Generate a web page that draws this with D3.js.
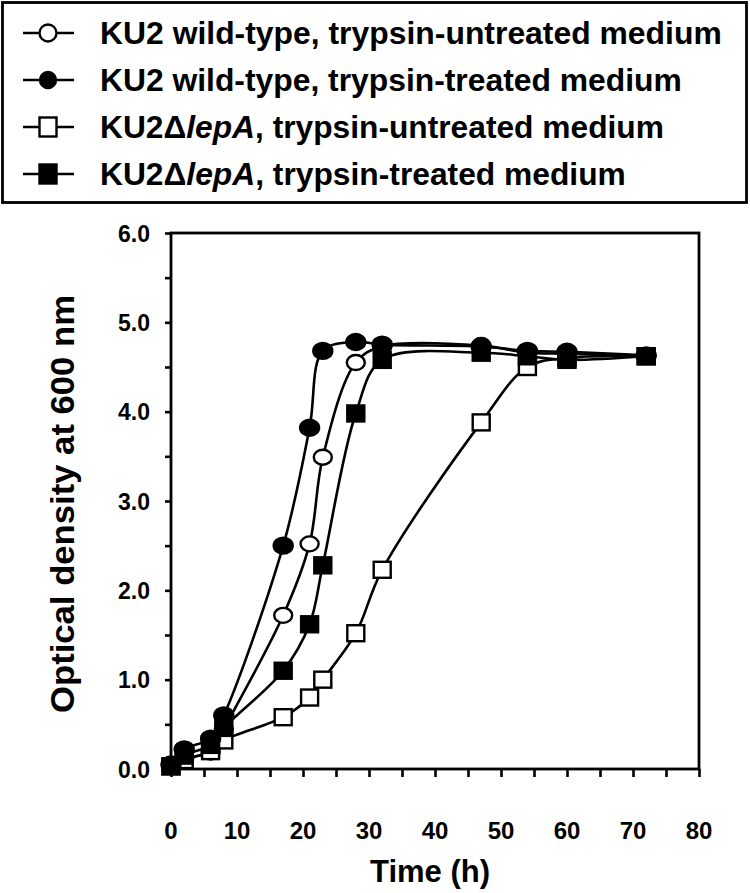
<!DOCTYPE html>
<html>
<head>
<meta charset="utf-8">
<script src="https://cdn.jsdelivr.net/npm/d3@7"></script>
<style>
  body { margin: 0; background: #fff; }
  svg { display: block; }
  text { font-family: "Liberation Sans", Arial, sans-serif; font-weight: bold; fill: #000; }
</style>
</head>
<body>
<svg id="chart" width="750" height="893"></svg>
<script>
// ---- data ----
const times = [0, 2, 6, 8, 17, 21, 23, 28, 32, 47, 54, 60, 72];
const wtUntreated  = [0.03, 0.12, 0.19, 0.45, 1.72, 2.52, 3.49, 4.55, 4.73, 4.74, 4.66, 4.65, 4.62];
const wtTreated    = [0.05, 0.22, 0.34, 0.60, 2.50, 3.82, 4.68, 4.78, 4.75, 4.73, 4.68, 4.67, 4.63];
const lepUntreated = [0.03, 0.10, 0.20, 0.32, 0.58, 0.80, 1.00, 1.52, 2.23, 3.88, 4.50, 4.60, 4.62];
const lepTreated   = [0.03, 0.15, 0.27, 0.46, 1.10, 1.62, 2.28, 3.98, 4.58, 4.66, 4.62, 4.58, 4.62];
const legendLabels = [
  ["KU2 wild-type, trypsin-untreated medium"],
  ["KU2 wild-type, trypsin-treated medium"],
  ["KU2Δ", "lepA", ", trypsin-untreated medium"],
  ["KU2Δ", "lepA", ", trypsin-treated medium"]
];
const xTicks = [0, 10, 20, 30, 40, 50, 60, 70, 80];
const yTicks = [0, 1, 2, 3, 4, 5, 6];
const xTitle = "Time (h)";
const yTitle = "Optical density at 600 nm";

const series = [
  { name: "wtU", values: wtUntreated,  shape: "circle", fill: "#fff" },
  { name: "wtT", values: wtTreated,    shape: "circle", fill: "#000" },
  { name: "lepU", values: lepUntreated, shape: "square", fill: "#fff" },
  { name: "lepT", values: lepTreated,   shape: "square", fill: "#000" }
];

// ---- layout ----
const svg = d3.select("#chart");
const L = 171, R = 699, T = 233, B = 769;
const x = d3.scaleLinear().domain([0, 80]).range([L, R]);
const y = d3.scaleLinear().domain([0, 6]).range([B, T]);

// frame
svg.append("rect").attr("x", L).attr("y", T).attr("width", R - L).attr("height", B - T)
  .attr("fill", "none").attr("stroke", "#000").attr("stroke-width", 2.8);

// x axis ticks
const xAxis = d3.axisBottom(x).tickValues(d3.range(0, 81, 5)).tickSize(8).tickFormat("");
const gx = svg.append("g").attr("transform", `translate(0,${B})`).call(xAxis);
gx.select(".domain").remove();
gx.selectAll(".tick line").attr("stroke", "#000").attr("stroke-width", 2.6);
svg.append("g").selectAll("text").data(xTicks).join("text")
  .attr("x", d => x(d)).attr("y", 839).attr("text-anchor", "middle")
  .attr("font-size", 24).text(d => d);

// y axis ticks
const yAxis = d3.axisLeft(y).tickValues(d3.range(0, 6.01, 0.5)).tickSize(6).tickFormat("");
const gy = svg.append("g").attr("transform", `translate(${L},0)`).call(yAxis);
gy.select(".domain").remove();
gy.selectAll(".tick line").attr("stroke", "#000").attr("stroke-width", 2.6);
svg.append("g").selectAll("text").data(yTicks).join("text")
  .attr("x", 150).attr("y", d => y(d) + 8.5).attr("text-anchor", "end")
  .attr("font-size", 23).text(d => d3.format(".1f")(d));

// titles
svg.append("text").attr("x", 430).attr("y", 882).attr("text-anchor", "middle")
  .attr("font-size", 31).text(xTitle);
svg.append("text").attr("transform", `translate(74,${(T + B) / 2 + 3}) rotate(-90)`)
  .attr("text-anchor", "middle").attr("font-size", 34)
  .attr("textLength", 418).attr("lengthAdjust", "spacingAndGlyphs").text(yTitle);

// lines
const line = d3.line().x((d, i) => x(times[i])).y(d => y(d)).curve(d3.curveCatmullRom.alpha(0.5));
series.forEach(s => {
  svg.append("path").datum(s.values).attr("d", line)
    .attr("fill", "none").attr("stroke", "#000").attr("stroke-width", 2.6);
});

// markers: open first, then filled
function drawMarker(g, shape, fill, cx, cy, w, h) {
  if (shape === "circle") {
    g.append("ellipse").attr("cx", cx).attr("cy", cy).attr("rx", w / 2).attr("ry", h / 2)
      .attr("fill", fill).attr("stroke", "#000").attr("stroke-width", 2.4);
  } else {
    g.append("rect").attr("x", cx - w / 2).attr("y", cy - h / 2).attr("width", w).attr("height", h)
      .attr("fill", fill).attr("stroke", "#000").attr("stroke-width", 2.4);
  }
}
const markG = svg.append("g");
[series[0], series[2], series[1], series[3]].forEach(s => {
  s.values.forEach((v, i) => {
    const w = s.shape === "circle" ? (s.fill === "#000" ? 19 : 18) : 17;
    const h = s.shape === "circle" ? (s.fill === "#000" ? 16 : 15) : 16;
    drawMarker(markG, s.shape, s.fill, x(times[i]), y(v), w, h);
  });
});

// legend
svg.append("rect").attr("x", 2.5).attr("y", 2.5).attr("width", 744).attr("height", 200)
  .attr("fill", "#fff").attr("stroke", "#000").attr("stroke-width", 2.8);
const rowY = [33, 80, 127, 174];
const legG = svg.append("g");
series.forEach((s, i) => {
  const cy = rowY[i];
  legG.append("line").attr("x1", 23).attr("x2", 74).attr("y1", cy).attr("y2", cy)
    .attr("stroke", "#000").attr("stroke-width", 2.6);
  const w = s.shape === "circle" ? (s.fill === "#000" ? 16 : 17) : 17;
  const h = s.shape === "circle" ? (s.fill === "#000" ? 16 : 17) : 19;
  drawMarker(legG, s.shape, s.fill, 48, cy, w, h);
  const t = legG.append("text").attr("x", 0).attr("y", 0).attr("font-size", 31);
  legendLabels[i].forEach((part, j) => {
    const sp = t.append("tspan").text(part);
    if (j === 1) sp.attr("font-style", "italic");
  });
  t.attr("data-row", i);
});
// scale legend text horizontally to match reference widths
const targetW = [622, 582, 564, 526];
legG.selectAll("text").each(function() {
  const i = +this.getAttribute("data-row");
  const nat = this.getComputedTextLength();
  const k = targetW[i] / nat;
  this.setAttribute("transform", `translate(100,${rowY[i] + 11}) scale(${k},1)`);
});
</script>
</body>
</html>
